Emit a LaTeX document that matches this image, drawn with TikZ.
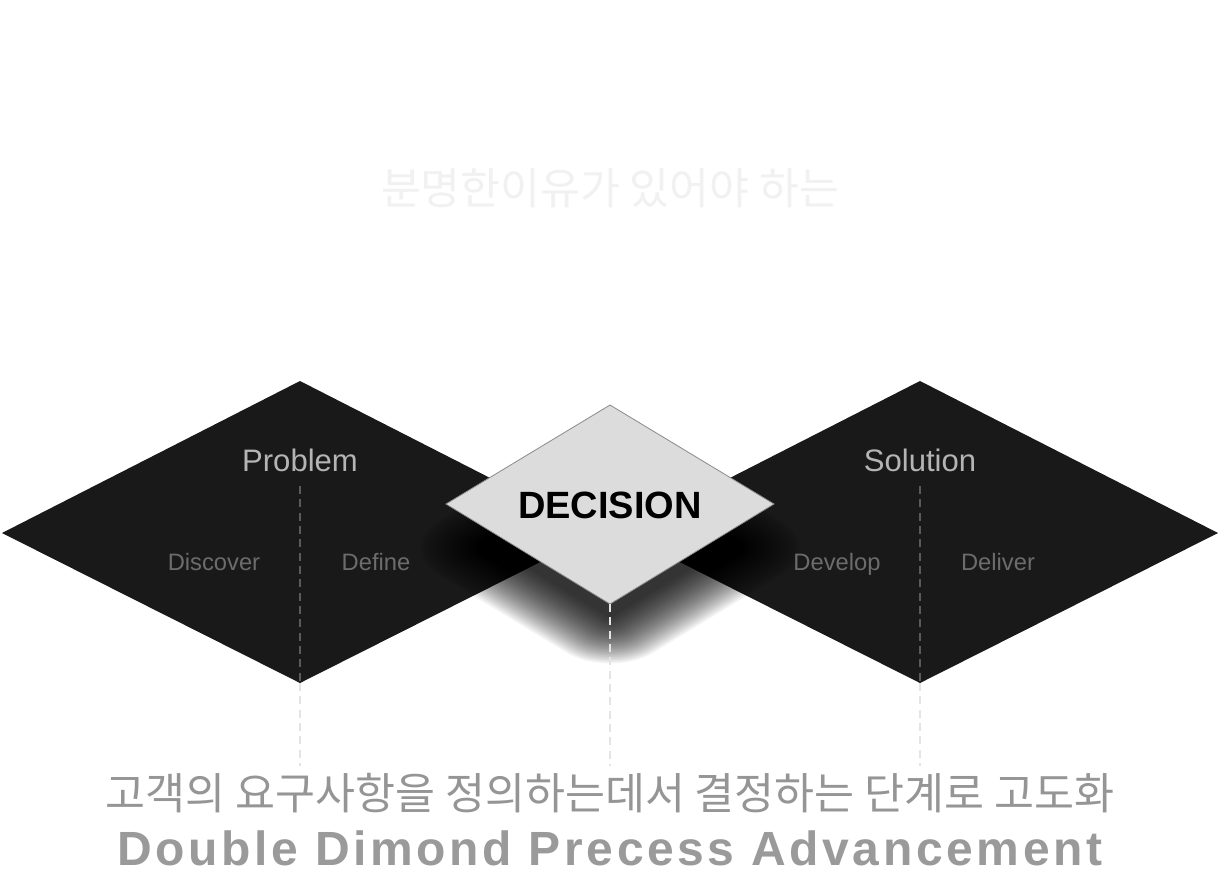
\documentclass[tikz,border=0pt]{standalone}
\usepackage{fontspec}
\setmainfont{Liberation Sans}
\newfontfamily\krfont{Noto Sans CJK KR}
\newfontfamily\spacedfont[LetterSpace=7.5]{Liberation Sans}
\definecolor{dia}{HTML}{191919}
\definecolor{deci}{HTML}{DCDCDC}
\definecolor{decborder}{HTML}{8A8A8A}
\definecolor{phase}{HTML}{B4B4B4}
\definecolor{sub}{HTML}{6C6C6C}
\definecolor{toptxt}{HTML}{F1F1F1}
\definecolor{krtxt}{HTML}{959595}
\definecolor{entxt}{HTML}{9A9A9A}
\definecolor{dashin}{HTML}{5A5A5A}
\definecolor{dashout}{HTML}{E4E4E4}
\tikzset{
  darkdia/.style={fill=dia},
  phaselbl/.style={text=phase, inner sep=0pt, font=\fontsize{23.3}{26}\selectfont},
  sublbl/.style={text=sub, inner sep=0pt, font=\fontsize{17.8}{20}\selectfont},
  guide/.style={line width=1.1pt, dash pattern=on 6pt off 4pt},
}
\begin{document}
\begin{tikzpicture}[x=0.75pt,y=-0.75pt]
\useasboundingbox[fill=white] (0,0) rectangle (1220,875);

% title
\node[text=toptxt, inner sep=0pt, font=\krfont\fontsize{32.5}{36}\selectfont] (title) at (610,188) {분명한이유가 있어야 하는};

% left diamond
\coordinate (pL) at (2,533);
\coordinate (pT) at (300,381);
\coordinate (pR) at (598,533);
\coordinate (pB) at (300,683);
\fill[darkdia] (pL) -- (pT) -- (pR) -- (pB) -- cycle;

% right diamond
\coordinate (sL) at (622,533);
\coordinate (sT) at (920,381);
\coordinate (sR) at (1218,533);
\coordinate (sB) at (920,683);
\fill[darkdia] (sL) -- (sT) -- (sR) -- (sB) -- cycle;

% blurred shadow of decision
\foreach \i in {0,...,29}{
  \pgfmathsetmacro\w{115+3.45*\i}
  \pgfmathsetmacro\h{\w/1.64}
  \pgfmathsetmacro\rc{1+1.3*\i}
  \fill[black, opacity=0.048, rounded corners=\rc pt] (610-\w,548) -- (610,548-\h) -- (610+\w,548) -- (610,548+\h) -- cycle;
}

% decision diamond
\coordinate (dL) at (446,504);
\coordinate (dT) at (610,405);
\coordinate (dR) at (774,504);
\coordinate (dB) at (610,604);
\filldraw[fill=deci, draw=decborder, line width=0.6pt] (dL) -- (dT) -- (dR) -- (dB) -- cycle;
\node[inner sep=0pt, font=\bfseries\fontsize{28.5}{32}\selectfont, anchor=base] (decision) at (610,518) {DECISION};

% labels
\node[phaselbl, anchor=base] (problem) at (300,471) {Problem};
\node[phaselbl, anchor=base] (solution) at (920,471) {Solution};
\node[sublbl, anchor=base] (discover) at (214,570) {Discover};
\node[sublbl, anchor=base] (define) at (376,570) {Define};
\node[sublbl, anchor=base] (develop) at (837,570) {Develop};
\node[sublbl, anchor=base] (deliver) at (998,570) {Deliver};

% guide lines
\coordinate (g1a) at (300,486);
\coordinate (g1b) at (300,766);
\coordinate (g2b) at (610,766);
\coordinate (g3a) at (920,486);
\coordinate (g3b) at (920,766);
\draw[guide, draw=dashin] (g1a) -- (pB);
\draw[guide, draw=dashout] (pB) -- (g1b);
\draw[guide, draw=dashout] (dB) -- (g2b);
\draw[guide, draw=dashin] (g3a) -- (sB);
\draw[guide, draw=dashout] (sB) -- (g3b);

% bottom texts
\node[text=krtxt, inner sep=0pt, font=\krfont\fontsize{32.6}{36}\selectfont] (kr) at (610,793) {고객의 요구사항을 정의하는데서 결정하는 단계로 고도화};
\node[text=entxt, inner sep=0pt, font=\spacedfont\bfseries\fontsize{36}{40}\selectfont] (en) at (610,848) {Double Dimond Precess Advancement};
\end{tikzpicture}
\end{document}
